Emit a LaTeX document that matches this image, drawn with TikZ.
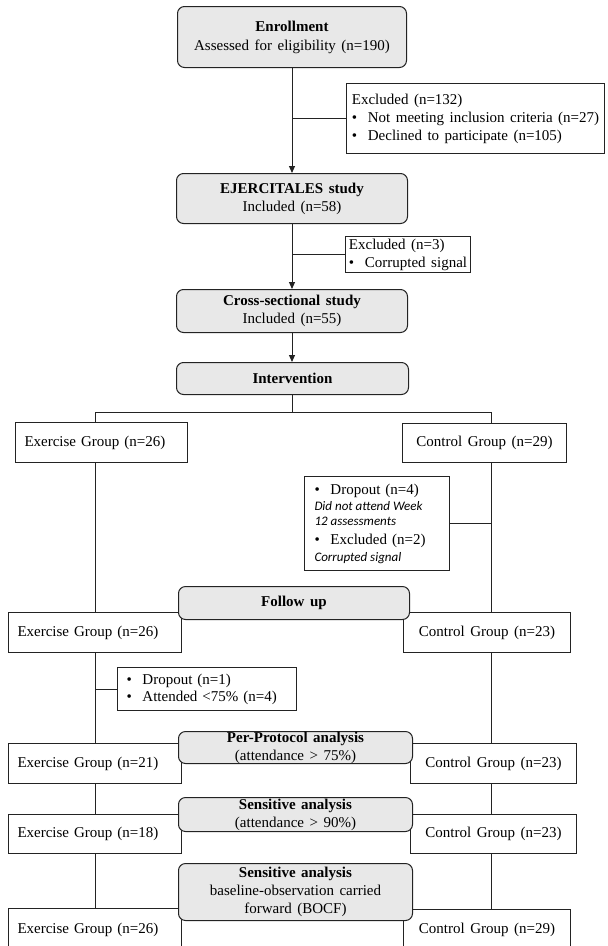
\documentclass[tikz,border=0pt]{standalone}
\usepackage{fontspec}
\setmainfont{Liberation Serif}
\newfontfamily\itfont{Carlito}
\usetikzlibrary{arrows.meta}
\definecolor{gfill}{RGB}{232,232,232}
\definecolor{lcol}{RGB}{35,35,35}
\newcommand\bul{\makebox[16pt][l]{\textbullet}}
\newcommand\nodefont{\fontsize{15}{18}\selectfont\spaceskip 5.5pt plus 1pt minus 1pt\relax}
\newcommand\smit[1]{{\itfont\itshape\fontsize{13}{15}\selectfont\spaceskip 0pt\relax #1}}
\newcommand\bx[7]{\node[#2, anchor=north west, minimum width={(#5-#3)*1pt}, minimum height={(#6-#4)*1pt}] (#1) at (#3,#4) {#7};}
% left aligned group box: name, x1, y1, x2, y2, text
\newcommand\lx[6]{\pgfmathsetmacro\tw{#4-#2-18}\node[wbox, align=left, anchor=north west, text width=\tw pt, inner xsep=9pt, minimum height={(#5-#3)*1pt}] (#1) at (#2,#3) {#6};}
\begin{document}
\begin{tikzpicture}[x=1pt,y=-1pt,
  every node/.style={font=\nodefont, inner sep=0pt},
  gbox/.style={draw=lcol, fill=gfill, rounded corners=7pt, line width=1pt, align=center},
  wbox/.style={draw=lcol, fill=white, line width=1pt, align=center},
  lbox/.style={draw=lcol, fill=white, line width=1pt, align=left},
  conn/.style={draw=lcol, line width=1pt},
  arr/.style={conn, -{Triangle[length=7pt,width=6pt]}},
]
\useasboundingbox[fill=white] (0,0) rectangle (608,946);
% white boxes
\bx{exc1}{lbox}{346}{83}{604}{153}{Excluded (n=132)\\\bul Not meeting inclusion criteria (n=27)\\\bul Declined to participate (n=105)}
\bx{exc2}{lbox}{345}{236}{470}{272}{Excluded (n=3)\\\bul Corrupted signal}
\lx{ex1}{15}{422}{187}{462}{Exercise Group (n=26)}
\bx{co1}{wbox}{402}{423}{566}{462}{Control Group (n=29)}
\node[lbox, anchor=north west, minimum width=145pt, minimum height=94pt, text width=125pt, inner xsep=10pt] (d4) at (304,476)
  {\bul Dropout (n=4)\\[-2pt]\smit{Did not attend Week}\\[-3pt]\smit{12 assessments}\\[1pt]\bul Excluded (n=2)\\[-1pt]\smit{Corrupted signal}};
\lx{ex2}{8}{612}{181}{652}{Exercise Group (n=26)}
\bx{co2}{wbox}{403}{612}{570}{652}{Control Group (n=23)}
\node[lbox, anchor=north west, minimum width=179pt, minimum height=43pt, text width=161pt, inner xsep=9pt] (d1) at (117,667)
  {\bul Dropout (n=1)\\[-1pt]\bul Attended <75\% (n=4)};
\lx{ex3}{8}{743}{181}{783}{Exercise Group (n=21)}
\bx{co3}{wbox}{410}{743}{576}{783}{Control Group (n=23)}
\lx{ex4}{8}{814}{181}{853}{Exercise Group (n=18)}
\bx{co4}{wbox}{410}{814}{576}{853}{Control Group (n=23)}
\lx{ex5}{8}{908}{181}{950}{Exercise Group (n=26)}
\bx{co5}{wbox}{403}{909}{570}{950}{Control Group (n=29)}
% grey boxes
\bx{enr}{gbox}{177}{6}{406}{67}{\textbf{Enrollment}\\[1pt]Assessed for eligibility (n=190)}
\bx{ej}{gbox}{176}{173}{407}{223}{\textbf{EJERCITALES study}\\Included (n=58)}
\bx{cs}{gbox}{176}{289}{407}{332}{\textbf{Cross-sectional study}\\Included (n=55)}
\bx{int}{gbox}{176}{362}{408}{394}{\textbf{Intervention}}
\bx{fu}{gbox}{178}{586}{409}{619}{\textbf{Follow up}}
\bx{pp}{gbox}{178}{731}{412}{763}{\textbf{Per-Protocol analysis}\\(attendance > 75\%)}
\bx{s1}{gbox}{178}{797}{412}{831}{\textbf{Sensitive analysis}\\(attendance > 90\%)}
\bx{s2}{gbox}{178}{863}{412}{920}{\textbf{Sensitive analysis}\\baseline-observation carried\\forward (BOCF)}
% guide coordinates
\coordinate (xl) at (95,0);
\coordinate (cl) at (491,0);
\coordinate (hy) at (0,412);
% connectors
\draw[arr] (enr.south) -- (ej.north);
\draw[conn] (exc1.west) -- (exc1.west -| enr.south);
\draw[arr] (ej.south) -- (cs.north);
\draw[conn] (exc2.west) -- (exc2.west -| ej.south);
\draw[arr] (cs.south) -- (cs.south |- int.north);
\draw[conn] (int.south) -- (int.south |- hy);
\draw[conn] (ex1.north -| xl) -- (xl |- hy) -- (cl |- hy) -- (co1.north -| cl);
\draw[conn] (ex1.south -| xl) -- (ex2.north -| xl);
\draw[conn] (ex2.south -| xl) -- (ex3.north -| xl);
\draw[conn] (ex3.south -| xl) -- (ex4.north -| xl);
\draw[conn] (ex4.south -| xl) -- (ex5.north -| xl);
\draw[conn] (co1.south -| cl) -- (co2.north -| cl);
\draw[conn] (co2.south -| cl) -- (co3.north -| cl);
\draw[conn] (co3.south -| cl) -- (co4.north -| cl);
\draw[conn] (co4.south -| cl) -- (co5.north -| cl);
\draw[conn] (d4.east) -- (d4.east -| cl);
\draw[conn] (d1.west) -- (d1.west -| xl);
\end{tikzpicture}
\end{document}
